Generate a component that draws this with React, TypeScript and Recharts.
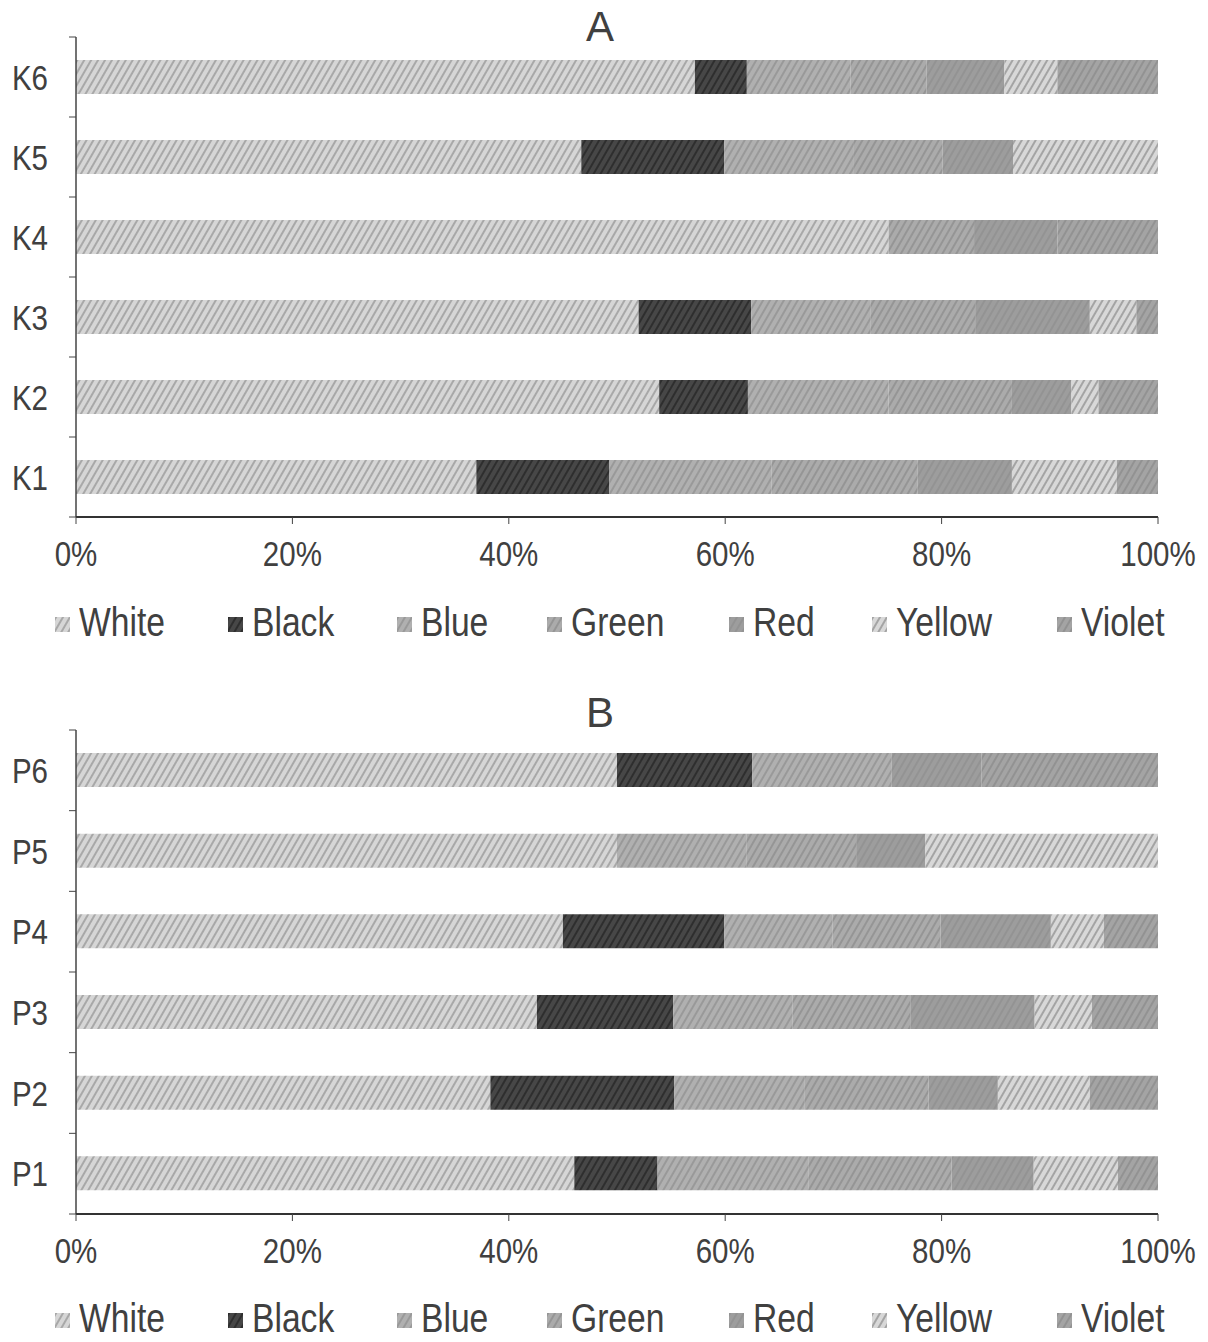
import { Bar, BarChart, Legend, XAxis, YAxis } from "recharts"

const FONT = "'Liberation Sans', Arial, sans-serif"
const TEXT = "#404040"
const SQUEEZE = 0.82 // the scan is a bit narrow, so text is squeezed

const seriesNames = ["White", "Black", "Blue", "Green", "Red", "Yellow", "Violet"]

// panel A (top to bottom)
const categoriesA = ["K6", "K5", "K4", "K3", "K2", "K1"]
const whiteA = [57.2, 46.7, 75.1, 52.0, 53.9, 37.0]
const blackA = [4.8, 13.2, 0, 10.4, 8.2, 12.3]
const blueA = [9.6, 12.0, 0, 11.0, 13.0, 15.0]
const greenA = [7.0, 8.2, 7.9, 9.7, 11.4, 13.5]
const redA = [7.2, 6.5, 7.7, 10.6, 5.5, 8.7]
const yellowA = [4.9, 13.4, 0, 4.3, 2.5, 9.7]
const violetA = [9.3, 0, 9.3, 2.0, 5.5, 3.8]

// panel B (top to bottom)
const categoriesB = ["P6", "P5", "P4", "P3", "P2", "P1"]
const whiteB = [50.0, 50.0, 45.0, 42.6, 38.3, 46.1]
const blackB = [12.5, 0, 14.9, 12.6, 17.0, 7.7]
const blueB = [12.9, 12.0, 10.0, 11.0, 12.0, 14.0]
const greenB = [0, 10.1, 10.0, 10.9, 11.5, 13.2]
const redB = [8.3, 6.4, 10.2, 11.5, 6.4, 7.6]
const yellowB = [0, 21.5, 4.9, 5.3, 8.5, 7.8]
const violetB = [16.3, 0, 5.0, 6.1, 6.3, 3.7]

const xTicks = [0, 0.2, 0.4, 0.6, 0.8, 1]

// grey hatch fills, as in the scanned print
const fills: Record<string, { base: string; line: string }> = {
  White: { base: "#d6d6d6", line: "#a8a8a8" },
  Black: { base: "#474747", line: "#2e2e2e" },
  Blue: { base: "#b0b0b0", line: "#999999" },
  Green: { base: "#ababab", line: "#959595" },
  Red: { base: "#9d9d9d", line: "#939393" },
  Yellow: { base: "#d8d8d8", line: "#a4a4a4" },
  Violet: { base: "#a4a4a4", line: "#929292" },
}

function Patterns() {
  return (
    <svg width={0} height={0} style={{ position: "absolute" }}>
      <defs>
        {seriesNames.map((s) => (
          <pattern
            key={s}
            id={`p${s}`}
            width={6}
            height={6}
            patternUnits="userSpaceOnUse"
            patternTransform="rotate(30)"
          >
            <rect width={6} height={6} fill={fills[s].base} />
            <rect width={2} height={6} fill={fills[s].line} />
          </pattern>
        ))}
      </defs>
    </svg>
  )
}

function XTick({ x, y, payload }: any) {
  return (
    <text
      transform={`translate(${x},${y}) scale(${SQUEEZE},1)`}
      textAnchor="middle"
      dy="0.71em"
      fill={TEXT}
      fontSize={36}
      fontFamily={FONT}
    >
      {`${Math.round(payload.value * 100)}%`}
    </text>
  )
}

// category label plus the small marks between categories
function YTick({ x, y, payload, index, band, count, margin }: any) {
  const ax = x + margin
  return (
    <g>
      <line x1={ax - 7} x2={ax} y1={y - band / 2} y2={y - band / 2} stroke="#444" />
      {index === count - 1 && (
        <line x1={ax - 7} x2={ax} y1={y + band / 2} y2={y + band / 2} stroke="#444" />
      )}
      <text
        transform={`translate(${x},${y}) scale(${SQUEEZE},1)`}
        textAnchor="end"
        dy="0.355em"
        fill={TEXT}
        fontSize={36}
        fontFamily={FONT}
      >
        {payload.value}
      </text>
    </g>
  )
}

function LegendContent({ payload }: any) {
  const items = [...(payload || [])].sort(
    (a: any, b: any) => seriesNames.indexOf(a.value) - seriesNames.indexOf(b.value)
  )
  return (
    <div
      style={{
        display: "flex",
        justifyContent: "center",
        gap: 44,
        fontFamily: FONT,
        fontSize: 41,
        lineHeight: "44px",
        color: TEXT,
        paddingLeft: 30,
      }}
    >
      {items.map((entry: any) => (
        <div key={entry.value} style={{ display: "flex", alignItems: "center" }}>
          <svg width={15} height={15} style={{ marginRight: 9, marginTop: 4 }}>
            <rect width={15} height={15} fill={entry.color} />
          </svg>
          <span style={{ display: "inline-block", transform: `scaleX(${SQUEEZE})`, transformOrigin: "left" }}>
            {entry.value}
          </span>
        </div>
      ))}
    </div>
  )
}

interface PanelProps {
  top: number
  categories: string[]
  series: number[][]
  plotBottom: number
  legendTop: number
}

function Panel({ top, categories, series, plotBottom, legendTop }: PanelProps) {
  const height = 660
  const plotTop = 37
  const band = (plotBottom - plotTop) / categories.length
  const data = categories.map((name, i) => {
    const row: Record<string, string | number> = { name }
    seriesNames.forEach((s, k) => {
      row[s] = series[k][i]
    })
    return row
  })

  return (
    <div style={{ position: "absolute", left: 0, top }}>
      <BarChart
        width={1208}
        height={height}
        data={data}
        layout="vertical"
        stackOffset="expand"
        barSize={34}
        margin={{ top: plotTop, right: 50, left: 0, bottom: height - plotBottom - 40 }}
      >
        <YAxis
          type="category"
          dataKey="name"
          width={76}
          axisLine={{ stroke: "#444", strokeWidth: 1.5 }}
          tickLine={false}
          tickSize={0}
          tickMargin={28}
          tick={<YTick band={band} count={categories.length} margin={28} />}
        />
        <XAxis
          type="number"
          domain={[0, 1]}
          ticks={xTicks}
          height={40}
          axisLine={{ stroke: "#333", strokeWidth: 2 }}
          tickLine={{ stroke: "#444" }}
          tickSize={7}
          tickMargin={16}
          tick={<XTick />}
        />
        <Legend
          verticalAlign="middle"
          align="center"
          layout="horizontal"
          wrapperStyle={{ top: legendTop, left: 0, width: 1208 }}
          content={<LegendContent />}
        />
        {seriesNames.map((s) => (
          <Bar key={s} dataKey={s} stackId="a" fill={`url(#p${s})`} isAnimationActive={false} />
        ))}
      </BarChart>
    </div>
  )
}

const titleStyle = {
  position: "absolute" as const,
  left: 0,
  width: 1200,
  textAlign: "center" as const,
  fontFamily: FONT,
  fontSize: 42,
  lineHeight: "42px",
  color: TEXT,
}

export default function App() {
  return (
    <div
      style={{
        position: "absolute",
        left: 0,
        top: 0,
        width: 1208,
        height: 1342,
        overflow: "hidden",
        background: "#fff",
      }}
    >
      <Patterns />
      <div style={{ ...titleStyle, top: 6 }}>A</div>
      <Panel
        top={0}
        categories={categoriesA}
        series={[whiteA, blackA, blueA, greenA, redA, yellowA, violetA]}
        plotBottom={517}
        legendTop={600}
      />
      <div style={{ ...titleStyle, top: 692 }}>B</div>
      <Panel
        top={693}
        categories={categoriesB}
        series={[whiteB, blackB, blueB, greenB, redB, yellowB, violetB]}
        plotBottom={521}
        legendTop={603}
      />
    </div>
  )
}
